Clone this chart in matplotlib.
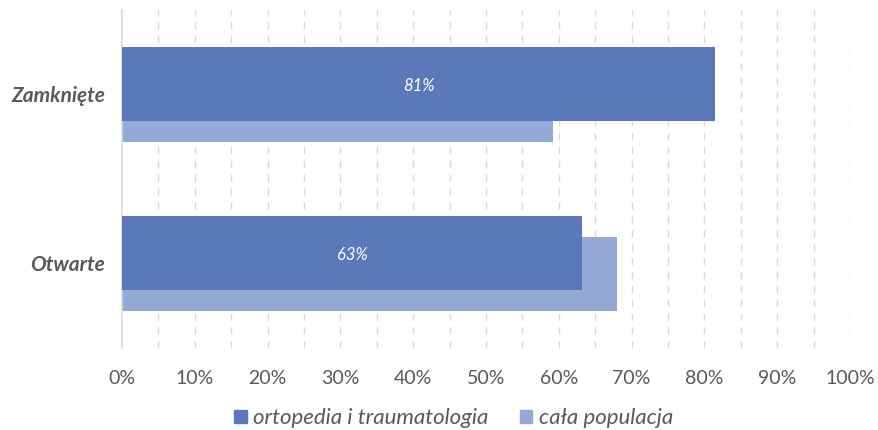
import matplotlib
matplotlib.use("Agg")
import matplotlib.pyplot as plt
from matplotlib.patches import Patch
import numpy as np

categories = ["Zamknięte", "Otwarte"]
ortopedia = [81.5, 63.2]
populacja = [59.2, 68.0]
bar_labels = ["81%", "63%"]
xticks = [0, 10, 20, 30, 40, 50, 60, 70, 80, 90, 100]
series_names = ["ortopedia i traumatologia", "cała populacja"]

dark = "#5B78BA"
light = "#95A9D6"
text_col = "#595959"

fig = plt.figure(figsize=(8.79, 4.30), dpi=100)
ax = fig.add_axes([0.1388, 0.191, 0.967 - 0.1388, 0.786])

y = np.arange(len(categories))
h = 0.438
off = 0.062
ax.barh(y + off, populacja, height=h, color=light, zorder=2)
ax.barh(y - off, ortopedia, height=h, color=dark, zorder=3)

for yi, v, lab in zip(y, ortopedia, bar_labels):
    ax.text(v / 2, yi - off + 0.01, lab, color="white", fontsize=12, fontstyle="italic",
            family="Lato", ha="center", va="center", zorder=4)

ax.set_xlim(0, 100)
ax.set_ylim(1.5, -0.5)
for g in range(5, 101, 5):
    ax.axvline(g, color="#D9D9D9", lw=1, ls=(0, (5, 5)), zorder=1)

ax.set_xticks(xticks)
ax.set_xticklabels([f"{t}%" for t in xticks], family="Lato", fontsize=14, color=text_col)
ax.set_yticks(y)
ax.set_yticklabels(categories, family="Lato", fontsize=15, fontweight="bold",
                   fontstyle="italic", color=text_col)
ax.tick_params(axis="x", length=0, pad=16)
ax.tick_params(axis="y", length=0, pad=12)
for s in ["top", "right", "bottom"]:
    ax.spines[s].set_visible(False)
ax.spines["left"].set_color("#D9D9D9")
ax.spines["left"].set_linewidth(1.2)

handles = [Patch(color=dark), Patch(color=light)]
leg = fig.legend(handles, series_names, loc="center", bbox_to_anchor=(0.516, 0.027),
                 ncol=2, frameon=False, handlelength=0.55, handleheight=0.55,
                 handletextpad=0.3, columnspacing=1.4,
                 prop={"family": "Lato", "style": "italic", "size": 16})
for t in leg.get_texts():
    t.set_color(text_col)

fig.savefig("out.png", dpi=100)
